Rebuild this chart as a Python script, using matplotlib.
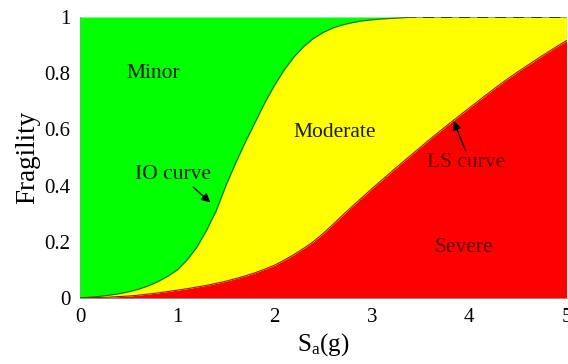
import matplotlib
matplotlib.use('Agg')
import matplotlib.pyplot as plt

plt.rcParams['font.family'] = 'serif'
plt.rcParams['font.serif'] = ['Liberation Serif', 'DejaVu Serif']
plt.rcParams['mathtext.fontset'] = 'custom'
plt.rcParams['mathtext.rm'] = 'Liberation Serif'
plt.rcParams['mathtext.it'] = 'Liberation Serif'

# spectral acceleration (g)
sa = [0.0, 0.1, 0.2, 0.3, 0.4, 0.5, 0.6, 0.7, 0.8, 0.9,
      1.0, 1.1, 1.2, 1.3, 1.4, 1.5, 1.6, 1.7, 1.8, 1.9,
      2.0, 2.1, 2.2, 2.3, 2.4, 2.5, 2.6, 2.7, 2.8, 2.9,
      3.0, 3.1, 3.2, 3.3, 3.4, 3.5, 3.6, 3.7, 3.8, 3.9,
      4.0, 4.1, 4.2, 4.3, 4.4, 4.5, 4.6, 4.7, 4.8, 4.9, 5.0]

# immediate occupancy fragility
io_curve = [0.000, 0.003, 0.006, 0.010, 0.015, 0.022, 0.031, 0.043, 0.058, 0.077,
            0.100, 0.135, 0.180, 0.240, 0.310, 0.400, 0.480, 0.555, 0.625, 0.695,
            0.757, 0.812, 0.858, 0.895, 0.924, 0.945, 0.961, 0.972, 0.980, 0.986,
            0.990, 0.993, 0.995, 0.997, 0.999, 1.000, 1.000, 1.000, 1.000, 1.000,
            1.000, 1.000, 1.000, 1.000, 1.000, 1.000, 1.000, 1.000, 1.000, 1.000, 1.000]

# life safety fragility
ls_curve = [0.000, 0.001, 0.002, 0.003, 0.005, 0.007, 0.010, 0.014, 0.018, 0.023,
            0.028, 0.033, 0.039, 0.045, 0.052, 0.060, 0.069, 0.079, 0.090, 0.103,
            0.117, 0.135, 0.155, 0.177, 0.201, 0.230, 0.262, 0.295, 0.327, 0.358,
            0.389, 0.419, 0.449, 0.479, 0.508, 0.537, 0.566, 0.594, 0.622, 0.649,
            0.676, 0.703, 0.730, 0.756, 0.781, 0.805, 0.828, 0.851, 0.873, 0.895, 0.916]

ceiling = [1.0] * len(sa)

xticks = [0, 1, 2, 3, 4, 5]
yticks = [0, 0.2, 0.4, 0.6, 0.8, 1]
ytick_labels = ['0', '0.2', '0.4', '0.6', '0.8', '1']

fig = plt.figure(figsize=(5.68, 3.64), dpi=100)
ax = fig.add_axes([80 / 568, 1 - 298 / 364, 486.5 / 568, 281 / 364])

# damage state regions
ax.fill_between(sa, 0, ls_curve, color='#ff0000', lw=0, zorder=1)
moderate = ax.fill_between(sa, ls_curve, io_curve, color='#ffff00', lw=0, zorder=1)
ax.fill_between(sa, io_curve, ceiling, color='#00ff00', lw=0, zorder=3)

# upper bound, only visible where the IO curve has saturated
dash, = ax.plot(sa, ceiling, color='black', ls=(0, (6, 4)), lw=1.3, zorder=2)
dash.set_clip_path(moderate.get_paths()[0], ax.transData)

ax.plot(sa, io_curve, color='#2d6b1e', lw=0.8, zorder=4)
ax.plot(sa, ls_curve, color='#8a2200', lw=0.8, zorder=4)

ax.set_xlim(0, 5)
ax.set_ylim(0, 1)
ax.set_xticks(xticks)
ax.set_yticks(yticks)
ax.set_yticklabels(ytick_labels)
ax.tick_params(length=0, labelsize=15, pad=7)
for side in ['top', 'right']:
    ax.spines[side].set_visible(False)
for side in ['left', 'bottom']:
    ax.spines[side].set_color('#888888')
    ax.spines[side].set_linewidth(0.6)

ax.set_xlabel(r'S$_{\mathrm{a}}$(g)', fontsize=18, labelpad=3)
ax.set_ylabel('Fragility', fontsize=19.5, labelpad=3)

label_kw = dict(fontsize=15.5, ha='center', va='center', zorder=5)
ax.text(0.75, 0.80, 'Minor', color='#1a1a1a', **label_kw)
ax.text(2.62, 0.59, 'Moderate', color='#1a1a1a', **label_kw)
ax.text(3.95, 0.178, 'Severe', color='#5a0a0a', **label_kw)

ax.annotate('IO curve', xy=(1.34, 0.34), xytext=(0.96, 0.438),
            color='#1a1a1a', **label_kw,
            arrowprops=dict(arrowstyle='-|>', color='black', lw=1.0,
                            shrinkA=0, shrinkB=0, mutation_scale=13,
                            relpos=(0.72, 0.0)))
ax.annotate('LS curve', xy=(3.84, 0.63), xytext=(3.97, 0.483),
            color='#5a0a0a', **label_kw,
            arrowprops=dict(arrowstyle='-|>', color='black', lw=1.0,
                            shrinkA=0, shrinkB=0, mutation_scale=13,
                            relpos=(0.5, 1.0)))

fig.savefig('out.png', dpi=100)
